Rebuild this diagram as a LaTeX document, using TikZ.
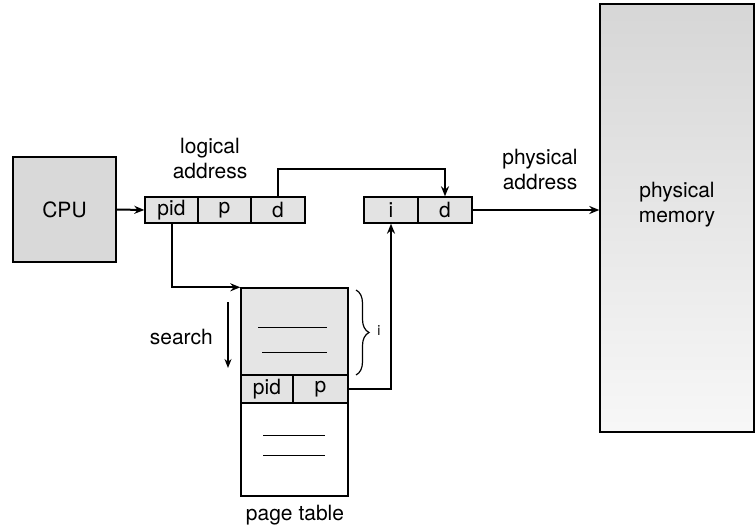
\documentclass[tikz,border=0pt]{standalone}
\usepackage{fontspec}
\setmainfont{TeX Gyre Heros}
\usetikzlibrary{arrows.meta,decorations.pathreplacing,calc}
\begin{document}
\begin{tikzpicture}[x=1pt,y=-1pt,
  box/.style={draw,line width=1.4pt,inner sep=0pt,font=\fontsize{21}{23}\selectfont},
  cell/.style={box,fill=gray!22,minimum height=26pt},
  arr/.style={line width=2pt,-{Stealth[length=10pt,width=8pt]}},
  lbl/.style={font=\fontsize{21}{25}\selectfont,align=center,inner sep=0pt},
  rule/.style={line width=1pt}]
\useasboundingbox (0,0) rectangle (755,532);
% CPU
\node[box,fill=gray!30,minimum width=103pt,minimum height=105pt] (cpu) at (64.5,209.5) {CPU};
% logical address
\node[cell,minimum width=53pt] (la1) at (171.5,210) {pid};
\node[cell,minimum width=53pt] (la2) at (224.5,210) {p};
\node[cell,minimum width=54pt] (la3) at (278,210) {d};
\node[lbl] (lalbl) at (210,159) {logical\\address};
% physical address
\node[cell,minimum width=54pt] (pa1) at (391,210) {i};
\node[cell,minimum width=54pt] (pa2) at (445,210) {d};
\node[lbl] (palbl) at (540,170) {physical\\address};
% physical memory
\shade[top color=gray!32,bottom color=gray!6] (600,4) rectangle (754,432);
\node[box,minimum width=154pt,minimum height=428pt] (mem) at (677,218) {};
\node[lbl] (memlbl) at (677,205) {physical\\memory};
% page table
\node[box,fill=gray!20,minimum width=107pt,minimum height=87pt] (pttop) at (294.5,331.5) {};
\node[cell,minimum width=52pt,minimum height=28pt] (ptpid) at (267,389) {pid};
\node[cell,minimum width=55pt,minimum height=28pt] (ptp) at (320.5,389) {p};
\node[box,minimum width=107pt,minimum height=93pt] (ptbot) at (294.5,449.5) {};
\node[lbl] (ptlbl) at (295,515) {page table};
\draw[rule] (258,327) -- (327,327);
\draw[rule] (262,352) -- (327,352);
\draw[rule] (263,435) -- (325,435);
\draw[rule] (263,455) -- (325,455);
% brace
\draw[line width=1.2pt,decorate,decoration={brace,amplitude=13pt}] (356,290) -- (356,375);
\node[font=\fontsize{14}{15}\selectfont] (ilbl) at (379,331) {i};
% search
\coordinate (s1) at (228,302);
\coordinate (s2) at (228,368);
\draw[line width=1.6pt,-{Stealth[length=9pt,width=7pt]}] (s1) -- (s2);
\node[lbl,anchor=east] (srch) at (213,337) {search};
% connectors
\draw[arr] (cpu.east) -- (la1.west);
\draw[arr] (la3.north) -- ++(0,-27) -| (pa2.north);
\draw[arr] (pa2.east) -- (pa2.east -| mem.west);
\draw[arr] (la1.south) |- (pttop.north west);
\draw[arr] (ptp.east) -| (pa1.south);
\end{tikzpicture}
\end{document}
